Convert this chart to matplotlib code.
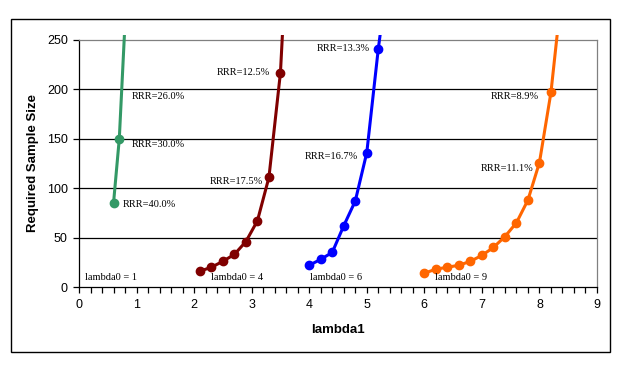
import matplotlib.pyplot as plt
from matplotlib.patches import Rectangle
from matplotlib.ticker import MultipleLocator

# lambda0 = 1
x_l1 = [0.6, 0.7, 0.8]
y_l1 = [85, 150, 268]
# lambda0 = 4
x_l4 = [2.1, 2.3, 2.5, 2.7, 2.9, 3.1, 3.3, 3.5, 3.7]
y_l4 = [16, 20, 26, 33, 46, 67, 111, 217, 440]
# lambda0 = 6
x_l6 = [4.0, 4.2, 4.4, 4.6, 4.8, 5.0, 5.2, 5.4]
y_l6 = [22, 28, 35, 62, 87, 136, 241, 330]
# lambda0 = 9
x_l9 = [6.0, 6.2, 6.4, 6.6, 6.8, 7.0, 7.2, 7.4, 7.6, 7.8, 8.0, 8.2, 8.4]
y_l9 = [14, 18, 20, 22, 26, 32, 40, 51, 65, 88, 126, 197, 305]

series = [
    (x_l1, y_l1, "#339966"),
    (x_l4, y_l4, "#800000"),
    (x_l6, y_l6, "#0000ff"),
    (x_l9, y_l9, "#ff6600"),
]

# annotation text, anchor x, anchor y, horizontal alignment
notes = [
    ("RRR=26.0%", 0.91, 193, "left"),
    ("RRR=30.0%", 0.91, 144, "left"),
    ("RRR=40.0%", 0.76, 84, "left"),
    ("lambda0 = 1", 0.11, 10, "left"),
    ("RRR=12.5%", 3.31, 217, "right"),
    ("RRR=17.5%", 3.2, 107, "right"),
    ("lambda0 = 4", 2.3, 10, "left"),
    ("RRR=13.3%", 5.05, 241, "right"),
    ("RRR=16.7%", 4.85, 132, "right"),
    ("lambda0 = 6", 4.01, 10, "left"),
    ("RRR=8.9%", 7.99, 193, "right"),
    ("RRR=11.1%", 7.89, 120, "right"),
    ("lambda0 = 9", 6.18, 10, "left"),
]

fig = plt.figure(figsize=(6.23, 3.72), dpi=100)
fig.patch.set_facecolor("white")
ax = fig.add_axes([79 / 623, 1 - 287 / 372, 518 / 623, 247 / 372])

# outer chart border
fig.patches.append(
    Rectangle(
        (11 / 623, 1 - 352 / 372),
        599 / 623,
        333 / 372,
        transform=fig.transFigure,
        fill=False,
        edgecolor="black",
        linewidth=1.0,
    )
)

for y in [50, 100, 150, 200]:
    ax.axhline(y, color="black", linewidth=0.9, zorder=1)

clip = Rectangle((0, 0), 1, 1.02, transform=ax.transAxes, visible=False)
ax.add_patch(clip)
for xs, ys, col in series:
    (ln,) = ax.plot(
        xs, ys, color=col, linewidth=2.2, marker="o", markersize=6, zorder=3
    )
    ln.set_clip_path(clip)

for txt, tx, ty, ha in notes:
    ax.text(
        tx, ty, txt, ha=ha, va="center", fontsize=7.5,
        family="Liberation Serif", zorder=4,
    )

ax.set_xlim(0, 9)
ax.set_ylim(0, 250)
ax.xaxis.set_major_locator(MultipleLocator(1))
ax.xaxis.set_minor_locator(MultipleLocator(0.2))
ax.yaxis.set_major_locator(MultipleLocator(50))
ax.tick_params(axis="both", which="both", direction="out", length=4,
               width=0.9, color="black", labelsize=9)
ax.tick_params(axis="x", which="both", pad=5)
ax.tick_params(axis="y", pad=4)
for lbl in ax.get_xticklabels() + ax.get_yticklabels():
    lbl.set_family("Liberation Sans")

ax.spines["left"].set_color("black")
ax.spines["bottom"].set_color("black")
ax.spines["top"].set_color("#808080")
ax.spines["right"].set_color("#808080")
for s in ax.spines.values():
    s.set_linewidth(0.9)

ax.set_xlabel("lambda1", fontsize=9.5, fontweight="bold", family="Liberation Sans")
ax.set_ylabel("Required Sample Size", fontsize=9.5, fontweight="bold",
              family="Liberation Sans")
ax.xaxis.set_label_coords(0.5, -43 / 247)
ax.xaxis.label.set_va("center")
ax.yaxis.set_label_coords(-46 / 518, 0.5)
ax.yaxis.label.set_va("center")

fig.savefig("out.png", dpi=100)
